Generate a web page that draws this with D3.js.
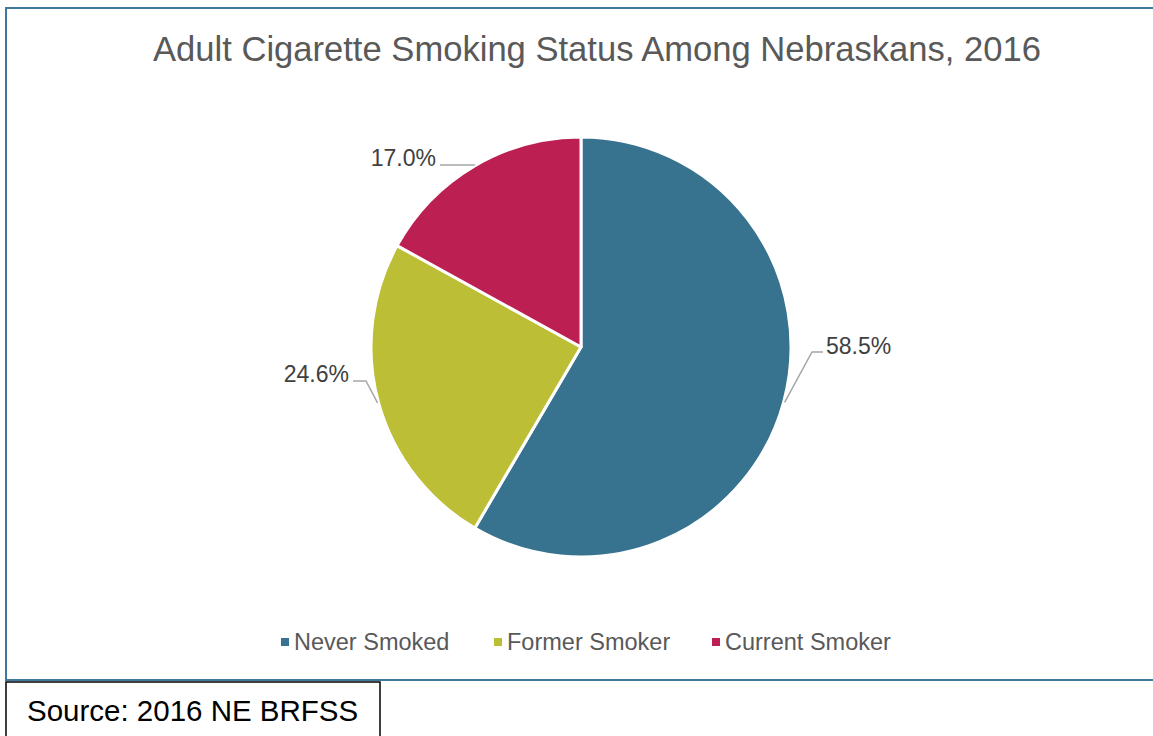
<!DOCTYPE html>
<html>
<head>
<meta charset="utf-8">
<script src="https://cdn.jsdelivr.net/npm/d3@7"></script>
<style>
  html, body { margin: 0; padding: 0; background: #fff; }
  svg { display: block; }
  text { font-family: "Liberation Sans", Arial, sans-serif; }
</style>
</head>
<body>
<svg id="chart" width="1153" height="736"></svg>
<script>
// Smoking status shares (percent)
const categories = ["Never Smoked", "Former Smoker", "Current Smoker"];
const values = [58.5, 24.6, 17.0];
const labels = ["58.5%", "24.6%", "17.0%"];
const colors = ["#37728F", "#BCBF35", "#BC1F52"];

const svg = d3.select("#chart");
const W = 1153, H = 736;

// chart frame
svg.append("rect")
  .attr("x", 6).attr("y", 8)
  .attr("width", W + 10).attr("height", 672)
  .attr("fill", "#fff")
  .attr("stroke", "#3F7898").attr("stroke-width", 2);

// title
svg.append("text")
  .attr("x", 597).attr("y", 61)
  .attr("text-anchor", "middle")
  .attr("font-size", 34.6)
  .attr("fill", "#595959")
  .text("Adult Cigarette Smoking Status Among Nebraskans, 2016");

// pie
const cx = 581, cy = 347, r = 210;
const pie = d3.pie().sort(null).value(d => d.value);
const arcs = pie(categories.map((c, i) => ({ name: c, value: values[i], label: labels[i], color: colors[i] })));
const arc = d3.arc().innerRadius(0).outerRadius(r);

const g = svg.append("g").attr("transform", `translate(${cx},${cy})`);
g.selectAll("path.slice")
  .data(arcs)
  .enter().append("path")
  .attr("class", "slice")
  .attr("d", arc)
  .attr("fill", d => d.data.color)
  .attr("stroke", "#fff")
  .attr("stroke-width", 3)
  .attr("stroke-linejoin", "round");

// data label placement: elbow offset from the slice edge and label side
const labelLayout = [
  { elbow: [231, 5], end: [242, 5], anchor: "start", dx: 3, dy: 2 },
  { elbow: [-215, 34], end: [-228, 34], anchor: "end", dx: -4, dy: 1 },
  { elbow: [-107, -182], end: [-141, -182], anchor: "end", dx: -4, dy: 1 }
];

const edge = d3.arc().innerRadius(r + 1).outerRadius(r + 1);
arcs.forEach((d, i) => {
  const L = labelLayout[i];
  const p0 = edge.centroid(d);
  g.append("polyline")
    .attr("points", [p0, L.elbow, L.end].map(p => p.join(",")).join(" "))
    .attr("fill", "none")
    .attr("stroke", "#A6A6A6")
    .attr("stroke-width", 1.5);
  g.append("text")
    .attr("x", L.end[0] + L.dx)
    .attr("y", L.end[1] + L.dy)
    .attr("text-anchor", L.anchor)
    .attr("font-size", 23)
    .attr("fill", "#404040")
    .text(d.data.label);
});

// legend
const legendX = [281, 494, 712];
const legend = svg.append("g");
categories.forEach((c, i) => {
  legend.append("rect")
    .attr("x", legendX[i]).attr("y", 638)
    .attr("width", 8).attr("height", 8)
    .attr("fill", colors[i]);
  legend.append("text")
    .attr("x", legendX[i] + 13).attr("y", 650)
    .attr("font-size", 23.5)
    .attr("fill", "#595959")
    .text(c);
});

// source note
svg.append("rect")
  .attr("x", 6).attr("y", 682)
  .attr("width", 374).attr("height", 70)
  .attr("fill", "#fff")
  .attr("stroke", "#000").attr("stroke-width", 1.5);
svg.append("text")
  .attr("x", 27).attr("y", 721)
  .attr("font-size", 29.5)
  .attr("fill", "#000")
  .text("Source: 2016 NE BRFSS");
</script>
</body>
</html>
